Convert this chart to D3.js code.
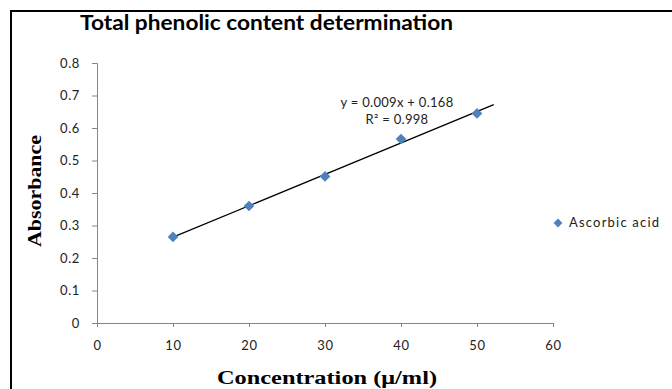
<!DOCTYPE html>
<html>
<head>
<meta charset="utf-8">
<script src="https://cdn.jsdelivr.net/npm/d3@7"></script>
<style>
  body { margin: 0; background: #fff; }
  svg { display: block; }
</style>
</head>
<body>
<div id="chart"></div>
<script>
// values
const concentration = [10, 20, 30, 40, 50];
const absorbance = [0.265, 0.36, 0.451, 0.566, 0.645];
const xTicks = [0, 10, 20, 30, 40, 50, 60];
const yTicks = [0, 0.1, 0.2, 0.3, 0.4, 0.5, 0.6, 0.7, 0.8];
const seriesName = "Ascorbic acid";
const equationText = ["y = 0.009x + 0.168", "R\u00b2 = 0.998"];

const width = 672, height = 389;
const margin = { top: 63, left: 97 };
const plotW = 456, plotH = 260;
const labelFont = "Lato, 'Open Sans', sans-serif";

const svg = d3.select("#chart")
  .append("svg")
  .attr("width", width)
  .attr("height", height);

// frame (only top and left visible in the crop)
svg.append("path")
  .attr("d", "M11,389 V11 H672")
  .attr("fill", "none")
  .attr("stroke", "#000")
  .attr("stroke-width", 2);

svg.append("text")
  .attr("x", 267)
  .attr("y", 30)
  .attr("text-anchor", "middle")
  .attr("font-family", labelFont)
  .attr("font-weight", "bold")
  .attr("font-size", 20)
  .attr("textLength", 373)
  .attr("lengthAdjust", "spacingAndGlyphs")
  .attr("x", 266.5)
  .text("Total phenolic content determination");

const g = svg.append("g")
  .attr("transform", "translate(" + margin.left + "," + margin.top + ")");

const x = d3.scaleLinear().domain([0, 60]).range([0, plotW]);
const y = d3.scaleLinear().domain([0, 0.8]).range([plotH, 0]);

// axes
const xAxis = g.append("g")
  .attr("transform", "translate(0," + plotH + ")")
  .call(d3.axisBottom(x).tickValues(xTicks).tickSize(4).tickPadding(14).tickFormat(d3.format("d")));

const yAxis = g.append("g")
  .call(d3.axisLeft(y).tickValues(yTicks).tickSize(5).tickPadding(12).tickFormat(d => d === 0 ? "0" : d3.format(".1f")(d)));

[xAxis, yAxis].forEach(a => {
  a.select(".domain").attr("stroke", "#868686");
  a.selectAll(".tick line").attr("stroke", "#868686");
  a.selectAll(".tick text")
    .attr("fill", "#222")
    .attr("font-family", labelFont)
    .attr("font-size", 13)
    .attr("letter-spacing", 0.6);
});

// linear trendline (least squares), forward forecast to ~52
const mx = d3.mean(concentration), my = d3.mean(absorbance);
const slope = d3.sum(concentration, (c, i) => (c - mx) * (absorbance[i] - my)) /
              d3.sum(concentration, c => (c - mx) * (c - mx));
const intercept = my - slope * mx;
const trendX = [d3.min(concentration), d3.max(concentration) + 2.2];

g.append("line")
  .attr("x1", x(trendX[0]))
  .attr("y1", y(intercept + slope * trendX[0]))
  .attr("x2", x(trendX[1]))
  .attr("y2", y(intercept + slope * trendX[1]))
  .attr("stroke", "#000")
  .attr("stroke-width", 1.3);

const diamond = d3.symbol().type(d3.symbolDiamond2).size(72);

g.selectAll(".pt")
  .data(concentration)
  .join("path")
  .attr("class", "pt")
  .attr("d", diamond)
  .attr("transform", (d, i) => "translate(" + x(d) + "," + y(absorbance[i]) + ")")
  .attr("fill", "#4f81bd");

// trendline equation
g.selectAll(".eq")
  .data(equationText)
  .join("text")
  .attr("class", "eq")
  .attr("x", 300)
  .attr("y", (d, i) => 44 + i * 17)
  .attr("text-anchor", "middle")
  .attr("font-family", labelFont)
  .attr("font-size", 13)
  .attr("letter-spacing", 0.3)
  .attr("fill", "#222")
  .text(d => d);

// legend
svg.append("path")
  .attr("d", diamond.size(50)())
  .attr("transform", "translate(558,223)")
  .attr("fill", "#4f81bd");
svg.append("text")
  .attr("x", 569)
  .attr("y", 227)
  .attr("font-family", labelFont)
  .attr("font-size", 13)
  .attr("textLength", 90)
  .attr("fill", "#222")
  .text(seriesName);

// axis titles
svg.append("text")
  .attr("transform", "translate(41,191) rotate(-90)")
  .attr("text-anchor", "middle")
  .attr("font-family", "'Liberation Serif', serif")
  .attr("font-weight", "bold")
  .attr("font-size", 19)
  .attr("textLength", 112)
  .attr("lengthAdjust", "spacingAndGlyphs")
  .text("Absorbance");

svg.append("text")
  .attr("x", 327)
  .attr("y", 384)
  .attr("text-anchor", "middle")
  .attr("font-family", "'Liberation Serif', serif")
  .attr("font-weight", "bold")
  .attr("font-size", 19)
  .attr("textLength", 220)
  .attr("lengthAdjust", "spacingAndGlyphs")
  .text("Concentration (\u03bc/ml)");
</script>
</body>
</html>
